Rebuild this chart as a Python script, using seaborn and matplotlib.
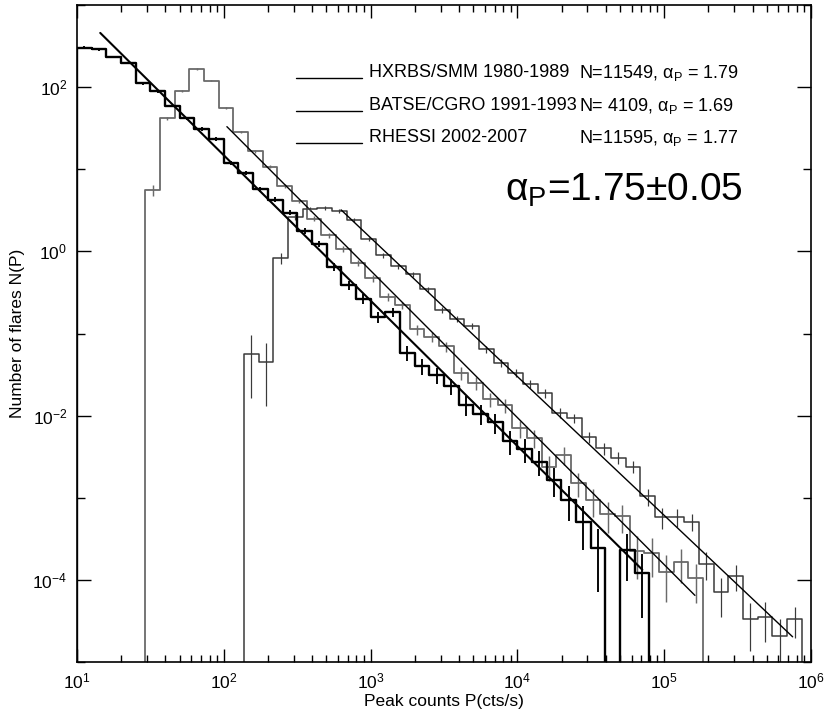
import numpy as np
import pandas as pd
import seaborn as sns
import matplotlib.pyplot as plt
from matplotlib.ticker import LogLocator, FixedLocator, NullFormatter

# Differential peak-count distributions N(P).
# All histograms use 0.1 dex bins; p0 is the lower edge of the first bin.
bin_dex = 0.1

hxrbs_p0 = 29.2
hxrbs_n = [5.6, 41.7, 90, 166, 120, 56, 28.5, 16.6, 10.8, 6.2,
           4.07, 2.51, 1.57, 1.07, 0.72, 0.468, 0.279, 0.221, 0.112, 0.0912,
           0.070, 0.0331, 0.0251, 0.0158, 0.0135, 0.0070, 0.00537, 0.0024, 0.00331, 0.00151,
           0.00093, 0.00063, 0.0006, 0.000224, 0.000214, 0.000126, 0.000166, 0.000105]

batse_p0 = 137.4
batse_n = [0.0562, 0.0447, 0.832, 2.63, 3.31, 3.39, 3.09, 2.40, 1.43, 0.891,
           0.661, 0.525, 0.347, 0.195, 0.151, 0.123, 0.0646, 0.0437, 0.0331, 0.0245,
           0.0186, 0.0108, 0.00933, 0.0055, 0.00398, 0.00309, 0.0024, 0.00104, 0.000582, 0.000589,
           0.000513, 0.000158, 7.1e-5, 0.000112, 3.3e-5, 3.55e-5, 2.1e-5, 3.3e-5]

rhessi_p0 = 10.0
rhessi_n = [302, 288, 234, 195, 111, 89, 59, 41.7, 30.9, 23.4,
            12.0, 9.1, 5.7, 4.27, 2.95, 1.78, 1.24, 0.646, 0.389, 0.263,
            0.158, 0.182, 0.0582, 0.0398, 0.0309, 0.0229, 0.0135, 0.0105, 0.0083, 0.0049,
            0.0039, 0.00275, 0.00166, 0.00095, 0.00051, 0.000245, 0, 0.000229, 0.00012, 0]

# power-law fits: P_min, P_max, N(P_min), alpha
hxrbs_fit = (105.0, 1.62e5, 33.0, 1.79)
batse_fit = (630.0, 7.5e5, 3.2, 1.69)
rhessi_fit = (14.4, 7.1e4, 457.0, 1.77)

legend_names = ["HXRBS/SMM 1980-1989", "BATSE/CGRO 1991-1993", "RHESSI 2002-2007"]
legend_counts = ["N=11549", "N= 4109", "N=11595"]
legend_alphas = ["1.79", "1.69", "1.77"]

sns.set_style("ticks", {"axes.edgecolor": "black", "text.color": "black",
                        "axes.labelcolor": "black", "xtick.color": "black",
                        "ytick.color": "black"})
plt.rcParams['font.family'] = ['Liberation Sans', 'DejaVu Sans']
plt.rcParams['mathtext.fontset'] = 'custom'
plt.rcParams['mathtext.rm'] = 'Liberation Sans'
plt.rcParams['mathtext.default'] = 'regular'
plt.rcParams['axes.unicode_minus'] = False

fig = plt.figure(figsize=(8.27, 7.13), dpi=100)
ax = fig.add_axes([0.0931, 0.0715, 0.8875, 0.9215])

series = [(hxrbs_p0, hxrbs_n, hxrbs_fit, "#6a6a6a", 1.3, 1.0),
          (batse_p0, batse_n, batse_fit, "#3a3a3a", 1.1, 1.0),
          (rhessi_p0, rhessi_n, rhessi_fit, "black", 1.7, 1.5)]

for p0, n, fit, col, lw, fit_lw in series:
    n = np.asarray(n, dtype=float)
    # steps: pad an empty bin on each side so the outline drops to the axis
    lo = p0 * 10 ** (bin_dex * np.arange(-1, len(n) + 1))
    x = np.append(lo, lo[-1] * 10 ** bin_dex)
    y = np.concatenate([[0], n, [0, 0]])
    df = pd.DataFrame({"P": x, "N": y})
    sns.lineplot(data=df, x="P", y="N", ax=ax, color=col, linewidth=lw,
                 drawstyle="steps-post", estimator=None, sort=False)

    # Poisson error bars at bin centres
    left = p0 * 10 ** (bin_dex * np.arange(len(n)))
    dp = left * (10 ** bin_dex - 1)
    pc = left * 10 ** (bin_dex / 2)
    sig = np.sqrt(n / dp)
    ok = n > 0
    low = np.clip(n - sig, 1e-9, None)
    ax.vlines(pc[ok], low[ok], (n + sig)[ok], color=col, linewidth=lw * 0.8)

    pmin, pmax, n0, a = fit
    fx = np.array([pmin, pmax])
    fy = n0 * (fx / pmin) ** (-a)
    sns.lineplot(x=fx, y=fy, ax=ax, color="black", linewidth=fit_lw,
                 estimator=None, sort=False)

ax.set_xscale('log')
ax.set_yscale('log')
ax.set_xlim(10, 1e6)
ax.set_ylim(1e-5, 1e3)

ax.xaxis.set_major_locator(LogLocator(base=10, numticks=10))
ax.xaxis.set_minor_locator(LogLocator(base=10, subs=np.arange(2, 10), numticks=20))
ax.xaxis.set_minor_formatter(NullFormatter())
ax.yaxis.set_major_locator(FixedLocator([1e-4, 1e-2, 1, 1e2]))
ax.yaxis.set_minor_locator(FixedLocator([1e-5, 1e-3, 1e-1, 1e1, 1e3]))
ax.yaxis.set_minor_formatter(NullFormatter())

ax.tick_params(which='both', direction='in', top=True, right=True,
               bottom=True, left=True, labelsize=12.5, width=1)
ax.tick_params(axis='x', which='major', length=9.5, pad=7)
ax.tick_params(axis='x', which='minor', length=4.7)
ax.tick_params(axis='y', which='major', length=10, pad=7)
ax.tick_params(axis='y', which='minor', length=6)
for s in ax.spines.values():
    s.set_linewidth(1.2)
    s.set_color("black")

ax.set_xlabel("Peak counts P(cts/s)", fontsize=12.5, labelpad=2)
ax.set_ylabel("Number of flares N(P)", fontsize=12.5, labelpad=5)

# legend drawn by hand as in the original
rows_y = [0.8965, 0.8463, 0.7976]
for yy, name, cnt, alp in zip(rows_y, legend_names, legend_counts, legend_alphas):
    ax.plot([0.2984, 0.3883], [yy - 0.0076, yy - 0.0076], color="black",
            linewidth=1.0, transform=ax.transAxes)
    ax.text(0.3978, yy, name, transform=ax.transAxes, fontsize=13,
            va='center', ha='left')
    ax.text(0.684, yy, cnt + r", $\alpha_P$ = " + alp, transform=ax.transAxes,
            fontsize=13, va='center', ha='left')

ax.text(0.583, 0.7184, r"$\alpha_P$=1.75±0.05", transform=ax.transAxes,
        fontsize=28, va='center', ha='left')

fig.savefig("out.png", dpi=100)
